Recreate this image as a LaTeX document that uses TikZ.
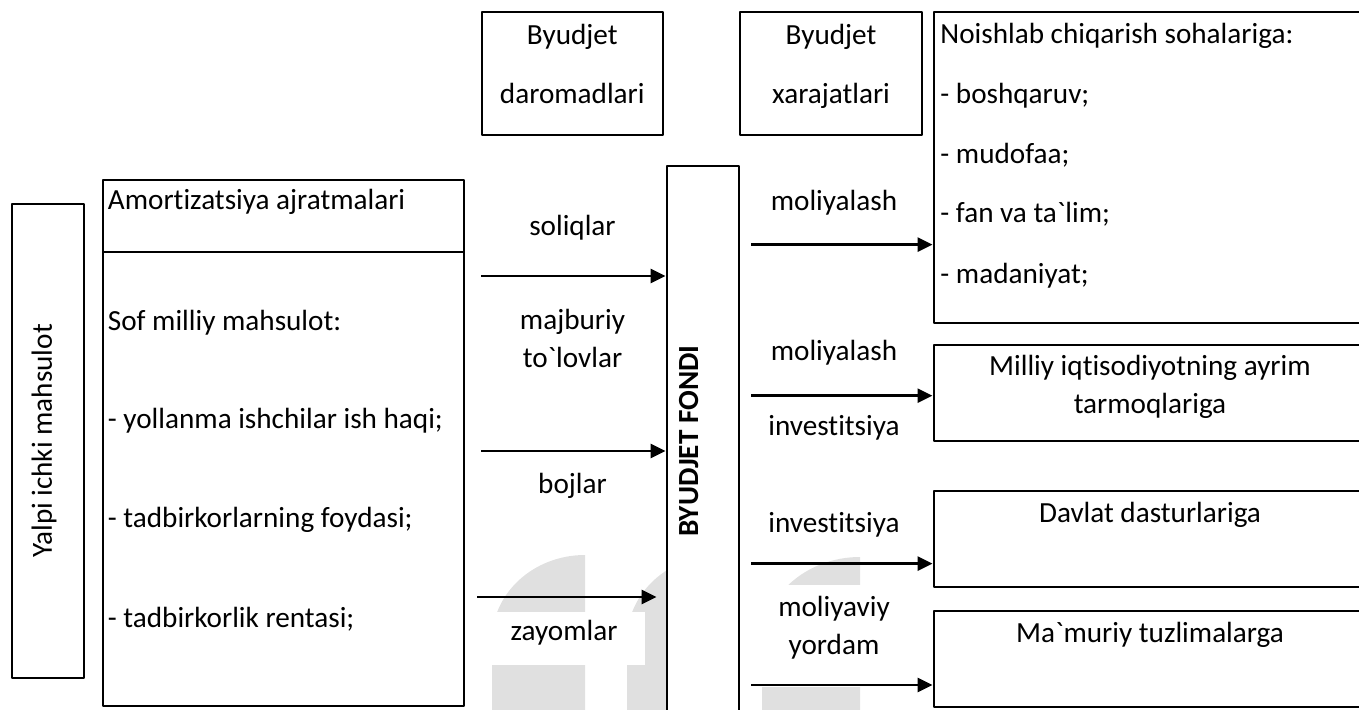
\documentclass[tikz,border=0pt]{standalone}
\usepackage{fontspec}
\setmainfont{Carlito}[Ligatures=NoCommon]
\usetikzlibrary{fit,arrows.meta}

\begin{document}
\begin{tikzpicture}[x=0.5pt, y=-0.5pt, font=\fontsize{14.6}{19}\selectfont, line join=round,
    box/.style={draw, line width=1pt, inner sep=0pt, fill=white},
    txt/.style={inner sep=0pt, anchor=base west},
    lbl/.style={inner sep=0pt, anchor=base},
    arr/.style={line width=1.4pt, -{Triangle[length=7.5pt,width=7pt]}}]
    \useasboundingbox (0,0) rectangle (1359,710);
    \clip (0,0) rectangle (1359,710);
    % watermark in the background
    \fill[black!12] (492,710) -- (492,640) arc[start angle=180, end angle=270, x radius=93, y radius=85] -- (585,710) -- cycle;
    \fill[black!12] (627,710) -- (627,640) arc[start angle=180, end angle=270, x radius=93, y radius=85] -- (720,710) -- cycle;
    \fill[black!12] (762,710) -- (762,645) arc[start angle=180, end angle=270, x radius=98, y radius=88] -- (860,710) -- cycle;
    \fill[white] (492,612) rectangle (645,665);
    \fill[white] (745,585) rectangle (925,687);
    % left column
    \node[box, fit={(12,204) (84,678)}] (yalpi) {};
    \node[rotate=90] (yalpitxt) at (44,441) {Yalpi ichki mahsulot};
    \node[box, fit={(102.5,180.5) (464,252)}] (amort) {};
    \node[box, fit={(102.5,252) (464,705.5)}] (sof) {};
    \node[txt] (amorttxt) at (107.5,209.5) {Amortizatsiya ajratmalari};
    \node[txt] (softxt) at (107.5,331) {Sof milliy mahsulot:};
    \node[txt] (sof1) at (107.5,429) {- yollanma ishchilar ish haqi;};
    \node[txt] (sof2) at (107.5,528) {- tadbirkorlarning foydasi;};
    \node[txt] (sof3) at (107.5,627) {- tadbirkorlik rentasi;};
    % top boxes
    \node[box, fit={(481.5,12.5) (663,135)}] (daromad) {};
    \node[lbl] (daromad1) at (572.3,44.3) {Byudjet};
    \node[lbl] (daromad2) at (572.3,104) {daromadlari};
    \node[box, fit={(740,12.5) (921.5,135)}] (xarajat) {};
    \node[lbl] (xarajat1) at (831,44.3) {Byudjet};
    \node[lbl] (xarajat2) at (831,104) {xarajatlari};
    % budget fund
    \node[box, fit={(666.5,166) (738.5,730)}] (fond) {};
    \node[rotate=90, font=\fontsize{14.6}{19}\selectfont\bfseries] (fondtxt) at (689,441) {BYUDJET FONDI};
    % incomes
    \node[lbl] (soliq) at (572.5,235.5) {soliqlar};
    \node[lbl] (majbur1) at (572.5,330) {majburiy};
    \node[lbl] (majbur2) at (572.5,368) {to\textasciigrave lovlar};
    \node[lbl] (boj) at (572.5,494) {bojlar};
    \node[lbl] (zayom) at (564,640.5) {zayomlar};
    \coordinate (in1) at (481,276);
    \coordinate (in2) at (481,451);
    \coordinate (in3) at (477,597);
    \draw[arr] (in1) -- (in1 -| fond.west);
    \draw[arr] (in2) -- (in2 -| fond.west);
    \draw[arr, shorten >=4.5pt] (in3) -- (in3 -| fond.west);
    % expenses
    \node[box, fit={(933.5,12.5) (1368,323.5)}] (noish) {};
    \node[txt] (noish0) at (940,44) {Noishlab chiqarish sohalariga:};
    \node[txt] (noish1) at (940,104) {- boshqaruv;};
    \node[txt] (noish2) at (940,164) {- mudofaa;};
    \node[txt] (noish3) at (940,223) {- fan va ta\textasciigrave lim;};
    \node[txt] (noish4) at (940,284) {- madaniyat;};
    \node[box, fit={(933.5,345.5) (1368,441)}] (milliy) {};
    \node[lbl] (milliy1) at (1150,375.7) {Milliy iqtisodiyotning ayrim};
    \node[lbl] (milliy2) at (1150,413.6) {tarmoqlariga};
    \node[box, fit={(933.5,491) (1368,586.5)}] (davlat) {};
    \node[lbl] (davlattxt) at (1150,522.5) {Davlat dasturlariga};
    \node[box, fit={(933.5,610.5) (1368,706.5)}] (mamur) {};
    \node[lbl] (mamurtxt) at (1150,642) {Ma\textasciigrave muriy tuzlimalarga};
    \node[lbl] (moliya1) at (834,210.7) {moliyalash};
    \node[lbl] (moliya2) at (834,360.7) {moliyalash};
    \node[lbl] (invest1) at (834,435.7) {investitsiya};
    \node[lbl] (invest2) at (834,532) {investitsiya};
    \node[lbl] (yordam1) at (834,616) {moliyaviy};
    \node[lbl] (yordam2) at (834,654) {yordam};
    \coordinate (out1) at (751,244.6);
    \coordinate (out2) at (751,395.7);
    \coordinate (out3) at (751,563.6);
    \coordinate (out4) at (751,685);
    \draw[arr] (out1) -- (out1 -| noish.west);
    \draw[arr] (out2) -- (out2 -| milliy.west);
    \draw[arr] (out3) -- (out3 -| davlat.west);
    \draw[arr] (out4) -- (out4 -| mamur.west);
\end{tikzpicture}
\end{document}
